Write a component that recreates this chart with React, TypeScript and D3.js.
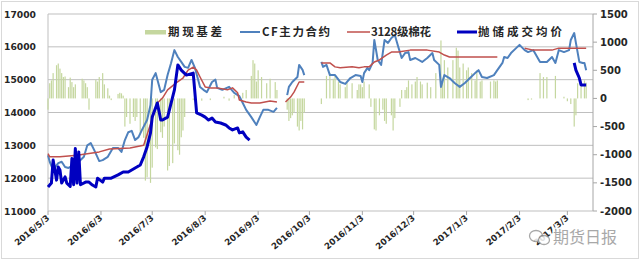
import React from "react";
import * as d3 from "d3";

const W = 640;
const H = 261;

const leftTicks = [11000, 12000, 13000, 14000, 15000, 16000, 17000];
const rightTicks = [-2000, -1500, -1000, -500, 0, 500, 1000, 1500];
const monthTicks = [
  "2016-05-03", "2016-06-03", "2016-07-03", "2016-08-03", "2016-09-03", "2016-10-03",
  "2016-11-03", "2016-12-03", "2017-01-03", "2017-02-03", "2017-03-03",
];
const monthLabels = [
  "2016/5/3", "2016/6/3", "2016/7/3", "2016/8/3", "2016/9/3", "2016/10/3",
  "2016/11/3", "2016/12/3", "2017/1/3", "2017/2/3", "2017/3/3",
];
const legendNames = ["期现基差", "CF主力合约", "3128级棉花", "抛储成交均价"];

// CF主力合约 (left axis); null marks a gap
const cfMain: [string, number | null][] = [
  ["2016-05-03", 12700], ["2016-05-04", 12500], ["2016-05-06", 12250], ["2016-05-09", 12460],
  ["2016-05-11", 12500], ["2016-05-13", 12340], ["2016-05-15", 12310], ["2016-05-18", 12400],
  ["2016-05-21", 12500], ["2016-05-24", 12650], ["2016-05-26", 13000], ["2016-05-28", 13070],
  ["2016-05-30", 12860], ["2016-06-02", 12520], ["2016-06-04", 12550], ["2016-06-07", 12650],
  ["2016-06-10", 12920], ["2016-06-13", 12920], ["2016-06-15", 12800], ["2016-06-17", 13160],
  ["2016-06-19", 13400], ["2016-06-21", 13440], ["2016-06-23", 13160], ["2016-06-25", 13250],
  ["2016-06-27", 13470], ["2016-06-30", 13770], ["2016-07-02", 14230], ["2016-07-03", 15000],
  ["2016-07-05", 15200], ["2016-07-08", 14620], ["2016-07-10", 14690], ["2016-07-12", 15140],
  ["2016-07-14", 15500], ["2016-07-16", 15900], ["2016-07-18", 15690], ["2016-07-20", 15540],
  ["2016-07-22", 15390], ["2016-07-24", 15360], ["2016-07-26", 15600], ["2016-07-28", 15360],
  ["2016-07-31", 14780], ["2016-08-02", 14690], ["2016-08-04", 14620], ["2016-08-07", 14930],
  ["2016-08-09", 15000], ["2016-08-10", 14750], ["2016-08-13", 14690], ["2016-08-17", 14780],
  ["2016-08-20", 14600], ["2016-08-23", 14500], ["2016-08-25", 14290], ["2016-08-27", 14080],
  ["2016-08-30", 13860], ["2016-09-02", 13620], ["2016-09-04", 13860], ["2016-09-06", 14080],
  ["2016-09-09", 14080], ["2016-09-12", 14020], ["2016-09-14", 14140], ["2016-09-17", null],
  ["2016-09-20", 14530], ["2016-09-21", 14780], ["2016-09-23", 14930], ["2016-09-26", 15080],
  ["2016-09-27", 15450], ["2016-09-29", 15300], ["2016-09-30", 15140], ["2016-10-05", null],
  ["2016-10-10", 15540], ["2016-10-11", 15390], ["2016-10-13", 15450], ["2016-10-15", 15140],
  ["2016-10-18", 15140], ["2016-10-21", 14930], ["2016-10-24", 14870], ["2016-10-27", 15050],
  ["2016-10-30", 15140], ["2016-11-02", 15110], ["2016-11-03", 14930], ["2016-11-04", 15200],
  ["2016-11-06", 15360], ["2016-11-07", 15290], ["2016-11-09", 15510], ["2016-11-10", 16210],
  ["2016-11-12", 15600], ["2016-11-14", 15450], ["2016-11-16", 16210], ["2016-11-18", 16120],
  ["2016-11-20", 16270], ["2016-11-22", 16360], ["2016-11-24", 16000], ["2016-11-26", 15660],
  ["2016-11-28", 15810], ["2016-11-30", 15840], ["2016-12-01", 15600], ["2016-12-04", 15660],
  ["2016-12-08", 15540], ["2016-12-11", 15660], ["2016-12-14", 15810], ["2016-12-15", 15600],
  ["2016-12-18", 15450], ["2016-12-19", 14780], ["2016-12-21", 15140], ["2016-12-24", 15050],
  ["2016-12-27", 14900], ["2016-12-30", 14780], ["2017-01-02", 14900], ["2017-01-05", 15050],
  ["2017-01-08", 15200], ["2017-01-10", 15290], ["2017-01-12", 15080], ["2017-01-15", 15050],
  ["2017-01-19", 15140], ["2017-01-21", 15290], ["2017-01-24", 15510], ["2017-01-25", 15690],
  ["2017-01-27", 15660], ["2017-01-29", 15810], ["2017-02-01", 15960], ["2017-02-03", 16060],
  ["2017-02-06", 15900], ["2017-02-08", 15840], ["2017-02-11", 15900], ["2017-02-15", 15540],
  ["2017-02-19", 15540], ["2017-02-22", 15690], ["2017-02-24", 15510], ["2017-02-26", 15900],
  ["2017-03-01", 15840], ["2017-03-04", 15900], ["2017-03-05", 16210], ["2017-03-07", 16420],
  ["2017-03-08", 16120], ["2017-03-10", 15540], ["2017-03-12", 15510], ["2017-03-13", 15510],
  ["2017-03-14", 15290],
];

// 3128级棉花 (left axis)
const cotton3128: [string, number | null][] = [
  ["2016-05-03", 12750], ["2016-05-04", 12650], ["2016-05-10", 12650], ["2016-05-20", 12700],
  ["2016-06-02", 12800], ["2016-06-08", 12890], ["2016-06-20", 12920], ["2016-06-28", 13000],
  ["2016-07-06", 14290], ["2016-07-09", 14440], ["2016-07-12", 14690], ["2016-07-17", 14900],
  ["2016-07-21", 15050], ["2016-07-24", 15290], ["2016-07-27", 15380], ["2016-07-29", 15290],
  ["2016-07-31", 15080], ["2016-08-03", 14780], ["2016-08-06", 14750], ["2016-08-10", 14750],
  ["2016-08-16", 14690], ["2016-08-19", 14750], ["2016-08-22", 14600], ["2016-08-23", 14380],
  ["2016-08-27", 14320], ["2016-08-30", 14290], ["2016-09-04", 14290], ["2016-09-10", 14350],
  ["2016-09-14", 14320], ["2016-09-17", null],
  ["2016-09-19", 14320], ["2016-09-22", 14470], ["2016-09-24", 14620], ["2016-09-27", 14930],
  ["2016-09-30", 14930], ["2016-10-05", null],
  ["2016-10-10", 15510], ["2016-10-15", 15510], ["2016-10-18", 15390], ["2016-10-21", 15360],
  ["2016-10-28", 15390], ["2016-11-01", 15360], ["2016-11-04", 15390], ["2016-11-07", 15390],
  ["2016-11-10", 15540], ["2016-11-13", 15600], ["2016-11-17", 15750], ["2016-11-20", 15840],
  ["2016-11-24", 15840], ["2016-12-01", 15900], ["2016-12-11", 15900], ["2016-12-18", 15840],
  ["2016-12-21", 15750], ["2016-12-24", 15690], ["2017-01-08", 15690], ["2017-01-21", 15690],
  ["2017-01-28", null],
  ["2017-02-06", 15960], ["2017-02-11", 15900], ["2017-02-22", 15900], ["2017-02-26", 15960],
  ["2017-03-14", 15960],
];

// 抛储成交均价 (left axis)
const reserveAvg: [string, number | null][] = [
  ["2016-05-03", 11730], ["2016-05-05", 11850], ["2016-05-06", 12550], ["2016-05-07", 12250],
  ["2016-05-08", 11940], ["2016-05-09", 12340], ["2016-05-10", 12250], ["2016-05-11", 11850],
  ["2016-05-13", 12040], ["2016-05-14", 11850], ["2016-05-16", 11750], ["2016-05-17", 12600],
  ["2016-05-18", 11800], ["2016-05-19", 12900], ["2016-05-20", 11850], ["2016-05-21", 12800],
  ["2016-05-22", 11800], ["2016-05-25", 11880], ["2016-05-27", 11880], ["2016-05-29", 11790],
  ["2016-05-31", 11730], ["2016-06-01", 12000], ["2016-06-04", 11880], ["2016-06-05", 12000],
  ["2016-06-09", 12000], ["2016-06-13", 12100], ["2016-06-16", 12190], ["2016-06-19", 12190],
  ["2016-06-23", 12310], ["2016-06-26", 12400], ["2016-06-28", 12650], ["2016-06-30", 12950],
  ["2016-07-02", 13380], ["2016-07-03", 13860], ["2016-07-06", 14290], ["2016-07-08", 13770],
  ["2016-07-09", 13770], ["2016-07-12", 13860], ["2016-07-16", 14690], ["2016-07-18", 15450],
  ["2016-07-20", 15290], ["2016-07-23", 15140], ["2016-07-27", 15200], ["2016-07-29", 13990],
  ["2016-08-01", 13920], ["2016-08-03", 13860], ["2016-08-05", 13770], ["2016-08-07", 13830],
  ["2016-08-09", 13710], ["2016-08-12", 13680], ["2016-08-15", 13620], ["2016-08-17", 13530],
  ["2016-08-19", 13470], ["2016-08-22", 13530], ["2016-08-23", 13380], ["2016-08-25", 13410],
  ["2016-08-27", 13250], ["2016-08-29", 13160], ["2016-12-01", null],
  ["2017-03-07", 15510], ["2017-03-08", 15290], ["2017-03-10", 15050], ["2017-03-11", 14840],
  ["2017-03-12", 14840], ["2017-03-14", 14840],
];

// 期现基差 (right axis)
const basis: [string, number][] = [
  ["2016-05-03", -200], ["2016-05-04", 270], ["2016-05-05", 320], ["2016-05-06", 450],
  ["2016-05-08", 590], ["2016-05-09", 620], ["2016-05-10", 530], ["2016-05-11", 450],
  ["2016-05-12", 380], ["2016-05-13", 390], ["2016-05-15", 200], ["2016-05-16", 370],
  ["2016-05-17", 290], ["2016-05-18", 200], ["2016-05-19", 250], ["2016-05-23", 350],
  ["2016-05-24", 320], ["2016-05-25", 270], ["2016-05-26", 200], ["2016-05-27", -200],
  ["2016-05-31", 330], ["2016-06-01", 300], ["2016-06-02", 380], ["2016-06-04", 450],
  ["2016-06-05", 250], ["2016-06-07", 180], ["2016-06-08", 50], ["2016-06-09", -30],
  ["2016-06-13", 80], ["2016-06-14", 100], ["2016-06-15", 90], ["2016-06-16", 50],
  ["2016-06-17", -500], ["2016-06-18", -330], ["2016-06-20", -450], ["2016-06-22", -330],
  ["2016-06-23", -400], ["2016-06-24", -330], ["2016-06-26", -620], ["2016-06-28", -700],
  ["2016-06-29", -1460], ["2016-06-30", -1400], ["2016-07-02", -1500], ["2016-07-03", -1230],
  ["2016-07-05", -870], ["2016-07-06", -900], ["2016-07-08", -600], ["2016-07-09", -700],
  ["2016-07-10", -500], ["2016-07-12", -1280], ["2016-07-13", -1200], ["2016-07-15", -1150],
  ["2016-07-16", -800], ["2016-07-18", -920], ["2016-07-19", -1000], ["2016-07-20", -690],
  ["2016-07-21", -570], ["2016-07-22", -330], ["2016-07-27", -30], ["2016-08-01", -40],
  ["2016-08-06", -30], ["2016-08-14", 30], ["2016-08-17", -40], ["2016-08-20", 60],
  ["2016-08-25", 100], ["2016-08-27", 150], ["2016-08-30", 400], ["2016-08-31", 680],
  ["2016-09-01", 620], ["2016-09-02", 300], ["2016-09-03", 500], ["2016-09-05", 380],
  ["2016-09-08", 270], ["2016-09-10", 350], ["2016-09-13", 290], ["2016-09-14", 150],
  ["2016-09-20", -200], ["2016-09-21", -400], ["2016-09-22", -350], ["2016-09-23", -300],
  ["2016-09-24", -250], ["2016-09-26", -500], ["2016-09-27", -570], ["2016-09-28", -400],
  ["2016-09-29", -550], ["2016-09-30", -250],
  ["2016-10-10", -100], ["2016-10-13", 400], ["2016-10-15", 450], ["2016-10-17", 350],
  ["2016-10-18", 400], ["2016-10-20", 300], ["2016-10-21", 250], ["2016-10-24", 200],
  ["2016-10-25", 280], ["2016-10-28", 270], ["2016-10-31", 150], ["2016-11-01", 250],
  ["2016-11-02", 250], ["2016-11-03", 200], ["2016-11-04", 300], ["2016-11-07", 250],
  ["2016-11-08", -150], ["2016-11-10", -550], ["2016-11-11", -570], ["2016-11-13", -300],
  ["2016-11-15", -200], ["2016-11-16", -400], ["2016-11-17", -450], ["2016-11-20", -300],
  ["2016-11-21", -570], ["2016-11-22", -350], ["2016-11-25", -150], ["2016-11-26", 150],
  ["2016-11-28", 150], ["2016-11-29", 200], ["2016-11-30", 320], ["2016-12-02", 250],
  ["2016-12-04", 300], ["2016-12-05", 380], ["2016-12-07", 300], ["2016-12-08", 250],
  ["2016-12-11", 280], ["2016-12-13", 200], ["2016-12-16", 450], ["2016-12-19", 1030],
  ["2016-12-20", 300], ["2016-12-21", 680], ["2016-12-23", 550], ["2016-12-26", 680],
  ["2016-12-28", 900], ["2016-12-29", 850], ["2016-12-30", 550], ["2017-01-01", 620],
  ["2017-01-03", 500], ["2017-01-04", 550], ["2017-01-06", 450], ["2017-01-08", 320],
  ["2017-01-09", 500], ["2017-01-11", 300], ["2017-01-12", 320], ["2017-01-17", 300],
  ["2017-01-19", 320], ["2017-01-20", 300], ["2017-01-21", 320],
  ["2017-02-08", -30], ["2017-02-10", -20], ["2017-02-15", 450], ["2017-02-17", 380],
  ["2017-02-19", 380], ["2017-02-24", 400], ["2017-03-01", 30], ["2017-03-03", -50],
  ["2017-03-05", -100], ["2017-03-07", -500], ["2017-03-08", -300], ["2017-03-09", 270],
  ["2017-03-11", 320], ["2017-03-13", 320], ["2017-03-14", 280],
];

const parse = d3.timeParse("%Y-%m-%d");

export default function App() {
  const x = d3
    .scaleTime()
    .domain([parse("2016-05-03") as Date, parse("2017-03-18") as Date])
    .range([48, 593]);
  const yL = d3.scaleLinear().domain([11000, 17000]).range([211, 14]);
  const yR = d3.scaleLinear().domain([-2000, 1500]).range([211, 14]);

  const line = d3
    .line<[string, number | null]>()
    .defined((d) => d[1] !== null)
    .x((d) => x(parse(d[0]) as Date))
    .y((d) => yL(d[1] as number));

  const axisFont = "'DejaVu Sans', Verdana, sans-serif";
  const [x0, x1] = x.range();
  const barColor = "#c5d79f";

  return (
    <svg
      width={W}
      height={H}
      style={{ position: "absolute", left: 0, top: 0, background: "#fff" }}
      fontFamily={axisFont}
    >
      <rect x={1.5} y={1.5} width={W - 3} height={H - 4} fill="#fff" stroke="#d9d9d9" />

      {/* gridlines */}
      {leftTicks.map((t) => (
        <line key={"g" + t} x1={x0} x2={x1} y1={yL(t)} y2={yL(t)} stroke="#bfbfbf" strokeWidth={1} />
      ))}
      <line x1={x0} x2={x0} y1={yL(17000)} y2={yL(11000)} stroke="#bfbfbf" />
      <line x1={x1} x2={x1} y1={yL(17000)} y2={yL(11000)} stroke="#a6a6a6" />

      {/* right ticks */}
      {rightTicks.map((t) => (
        <g key={"r" + t}>
          <line x1={x1} x2={x1 + 4} y1={yR(t)} y2={yR(t)} stroke="#a6a6a6" />
          <text x={600} y={yR(t) + 3.5} fontSize={10} fontWeight="bold" fill="#262626">
            {t}
          </text>
        </g>
      ))}

      {/* left tick labels */}
      {leftTicks.map((t) => (
        <text key={"l" + t} x={36} y={yL(t) + 3.5} fontSize={9.2} fontWeight="bold" textAnchor="end" fill="#262626">
          {t}
        </text>
      ))}

      {/* x ticks and labels */}
      {monthTicks.map((m, i) => {
        const px = x(parse(m) as Date);
        return (
          <g key={m}>
            <line x1={px} x2={px} y1={211} y2={215} stroke="#a6a6a6" />
            <text
              transform={`translate(${px + 2},${219}) rotate(-40)`}
              fontSize={8.6}
              fontWeight="bold"
              textAnchor="end"
              fill="#262626"
            >
              {monthLabels[i]}
            </text>
          </g>
        );
      })}

      {/* basis bars */}
      {basis.map(([d, v]) => {
        const px = x(parse(d) as Date);
        const y0 = yR(0);
        const yv = yR(v);
        return (
          <rect
            key={"b" + d}
            x={px - 0.6}
            width={1.2}
            y={Math.min(y0, yv)}
            height={Math.abs(yv - y0)}
            fill={barColor}
          />
        );
      })}

      {/* lines */}
      <path d={line(cfMain) || ""} fill="none" stroke="#4f81bd" strokeWidth={2} strokeLinejoin="round" />
      <path d={line(cotton3128) || ""} fill="none" stroke="#c0504d" strokeWidth={1.5} strokeLinejoin="round" />
      <path d={line(reserveAvg) || ""} fill="none" stroke="#0000c0" strokeWidth={3} strokeLinejoin="round" />

      {/* legend */}
      <g fontFamily="'Noto Sans CJK SC', sans-serif" fontSize={11.5} fontWeight="bold" fill="#262626">
        <rect x={145} y={30} width={21} height={4.5} fill={barColor} />
        <text x={168} y={36} textLength={54} lengthAdjust="spacing">{legendNames[0]}</text>
        <line x1={240} x2={260} y1={32} y2={32} stroke="#4f81bd" strokeWidth={2} />
        <text x={262} y={36} textLength={68} lengthAdjust="spacing">{legendNames[1]}</text>
        <line x1={347} x2={370} y1={32} y2={32} stroke="#c0504d" strokeWidth={1.5} />
        <text x={371} y={36} textLength={60} lengthAdjust="spacing">{legendNames[2]}</text>
        <line x1={457} x2={477} y1={32} y2={32} stroke="#0000c0" strokeWidth={3} />
        <text x={478} y={36} textLength={84} lengthAdjust="spacing">{legendNames[3]}</text>
      </g>

      {/* watermark */}
      <g opacity={0.85}>
        <ellipse cx={536} cy={236} rx={6.5} ry={5.5} fill="#fff" stroke="#9a9a9a" strokeWidth={1.3} />
        <ellipse cx={544} cy={240} rx={5.5} ry={4.5} fill="#fff" stroke="#9a9a9a" strokeWidth={1.3} />
        <text
          x={553}
          y={243}
          fontFamily="'Noto Sans CJK SC', sans-serif"
          fontSize={16}
          fill="#9a9a9a"
          stroke="#fff"
          strokeWidth={3}
          paintOrder="stroke"
        >
          期货日报
        </text>
      </g>
    </svg>
  );
}
